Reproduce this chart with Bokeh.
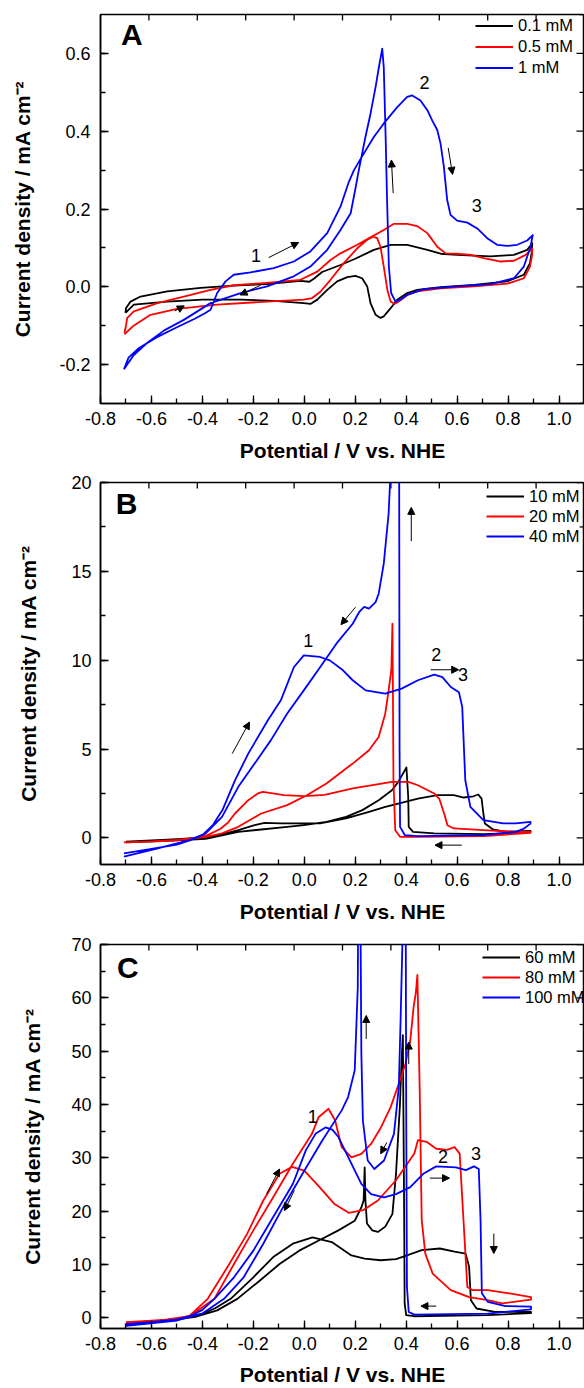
import numpy as np
from bokeh.plotting import figure
from bokeh.models import (SingleIntervalTicker, NumeralTickFormatter,
                          Arrow, NormalHead, Label, Range1d)
from bokeh.layouts import column
from bokeh.embed import file_html
from bokeh.resources import INLINE

FONT = "Liberation Sans"
X_LABEL = "Potential / V vs. NHE"
Y_LABEL = "Current density / mA cm\u207b\u00b2"
COLORS = ["#000000", "#ff0000", "#0000ff"]

# ---------------- Panel A data (E / V, j / mA cm-2) ----------------
A_LABELS = ["0.1 mM", "0.5 mM", "1 mM"]
A_01 = [(-0.702, -0.067), (-0.700, -0.055), (-0.682, -0.038), (-0.643, -0.025), (-0.538, -0.012),
        (-0.407, -0.003), (-0.277, 0.003), (-0.146, 0.007), (-0.015, 0.015), (0.020, 0.013),
        (0.040, 0.022), (0.070, 0.038), (0.142, 0.056), (0.200, 0.072), (0.273, 0.095),
        (0.339, 0.108), (0.404, 0.108), (0.483, 0.095), (0.535, 0.085), (0.600, 0.082),
        (0.731, 0.078), (0.823, 0.082), (0.875, 0.095), (0.895, 0.112),
        (0.893, 0.090), (0.886, 0.061), (0.862, 0.031), (0.797, 0.014), (0.666, 0.005),
        (0.535, -0.001), (0.443, -0.008), (0.404, -0.016), (0.365, -0.033), (0.339, -0.055),
        (0.312, -0.076), (0.299, -0.080), (0.280, -0.072), (0.260, -0.042), (0.247, 0.001),
        (0.227, 0.022), (0.201, 0.028), (0.169, 0.025), (0.129, 0.014), (0.090, -0.008),
        (0.051, -0.033), (0.024, -0.044), (-0.002, -0.042), (-0.120, -0.036), (-0.250, -0.033),
        (-0.400, -0.033), (-0.538, -0.038), (-0.669, -0.046), (-0.702, -0.067)]
A_05 = [(-0.706, -0.118), (-0.700, -0.100), (-0.695, -0.080), (-0.669, -0.063), (-0.577, -0.042),
        (-0.473, -0.025), (-0.368, -0.008), (-0.277, 0.004), (-0.172, 0.009), (-0.015, 0.018),
        (0.051, 0.039), (0.103, 0.069), (0.142, 0.086), (0.208, 0.108), (0.260, 0.127),
        (0.312, 0.146), (0.352, 0.162), (0.404, 0.162), (0.443, 0.156), (0.483, 0.138),
        (0.522, 0.103), (0.555, 0.086), (0.600, 0.085), (0.653, 0.082), (0.705, 0.074),
        (0.771, 0.065), (0.823, 0.067), (0.869, 0.082), (0.895, 0.099),
        (0.894, 0.080), (0.886, 0.052), (0.862, 0.022), (0.797, 0.008), (0.666, 0.001),
        (0.535, -0.004), (0.443, -0.012), (0.404, -0.021), (0.371, -0.038), (0.354, -0.044),
        (0.339, -0.038), (0.326, -0.008), (0.312, 0.052), (0.299, 0.103), (0.286, 0.125),
        (0.271, 0.129), (0.247, 0.121), (0.208, 0.099), (0.155, 0.061), (0.103, 0.018),
        (0.064, -0.012), (0.031, -0.029), (-0.002, -0.033), (-0.146, -0.038), (-0.342, -0.046),
        (-0.499, -0.057), (-0.604, -0.072), (-0.670, -0.100), (-0.706, -0.122)]
A_1 = [(-0.708, -0.212), (-0.690, -0.182), (-0.650, -0.158), (-0.580, -0.130), (-0.500, -0.104),
       (-0.430, -0.082), (-0.390, -0.068), (-0.368, -0.059), (-0.342, -0.016), (-0.309, 0.014),
       (-0.277, 0.031), (-0.211, 0.037), (-0.120, 0.048), (-0.041, 0.065), (0.024, 0.091),
       (0.090, 0.138), (0.142, 0.206), (0.175, 0.270), (0.195, 0.300), (0.234, 0.343),
       (0.273, 0.385), (0.312, 0.420), (0.365, 0.462), (0.404, 0.488), (0.424, 0.492),
       (0.456, 0.479), (0.483, 0.454), (0.502, 0.428), (0.522, 0.403), (0.535, 0.368),
       (0.548, 0.308), (0.561, 0.223), (0.574, 0.185), (0.600, 0.170), (0.640, 0.165),
       (0.679, 0.150), (0.718, 0.125), (0.757, 0.108), (0.797, 0.105), (0.836, 0.108),
       (0.875, 0.119), (0.897, 0.133),
       (0.888, 0.103), (0.862, 0.052), (0.823, 0.022), (0.731, 0.007), (0.600, 0.001),
       (0.469, -0.006), (0.404, -0.021), (0.378, -0.033), (0.358, -0.038), (0.341, -0.016),
       (0.332, 0.052), (0.325, 0.223), (0.319, 0.394), (0.312, 0.565), (0.306, 0.612),
       (0.293, 0.565), (0.280, 0.514), (0.260, 0.445), (0.240, 0.385), (0.214, 0.300),
       (0.200, 0.250), (0.182, 0.189), (0.142, 0.146), (0.090, 0.095), (0.024, 0.052),
       (-0.041, 0.027), (-0.146, 0.001), (-0.250, -0.016), (-0.368, -0.042), (-0.473, -0.085),
       (-0.550, -0.112), (-0.620, -0.146), (-0.670, -0.176), (-0.708, -0.212)]

# ---------------- Panel B data ----------------
B_LABELS = ["10 mM", "20 mM", "40 mM"]
B_10 = [(-0.700, -0.22), (-0.600, -0.15), (-0.500, -0.08), (-0.387, 0.02), (-0.323, 0.19),
        (-0.259, 0.43), (-0.195, 0.71), (-0.156, 0.84), (-0.092, 0.81), (-0.002, 0.81),
        (0.062, 0.81), (0.164, 1.09), (0.254, 1.46), (0.318, 1.74), (0.369, 1.93),
        (0.446, 2.21), (0.523, 2.40), (0.587, 2.40), (0.626, 2.27), (0.664, 2.34),
        (0.683, 2.44), (0.696, 2.21), (0.703, 1.37), (0.709, 0.81), (0.741, 0.47),
        (0.792, 0.34), (0.888, 0.39),
        (0.888, 0.34), (0.831, 0.28), (0.703, 0.21), (0.510, 0.25), (0.427, 0.34),
        (0.410, 0.62), (0.408, 2.30), (0.401, 3.96), (0.369, 3.15), (0.344, 2.68),
        (0.292, 2.12), (0.228, 1.56), (0.164, 1.18), (0.087, 0.90), (-0.002, 0.72),
        (-0.067, 0.62), (-0.169, 0.47), (-0.259, 0.34), (-0.387, -0.06), (-0.500, -0.14),
        (-0.600, -0.20), (-0.700, -0.25)]
B_20 = [(-0.708, -0.25), (-0.600, -0.20), (-0.500, -0.12), (-0.430, 0.00), (-0.380, 0.15),
        (-0.330, 0.50), (-0.300, 0.85), (-0.272, 1.37), (-0.220, 2.12), (-0.182, 2.50),
        (-0.163, 2.59), (-0.130, 2.52), (-0.080, 2.40), (0.000, 2.35), (0.080, 2.42),
        (0.190, 2.78), (0.280, 3.00), (0.344, 3.15), (0.408, 3.15), (0.446, 2.96),
        (0.510, 2.50), (0.530, 2.20), (0.549, 1.37), (0.562, 0.71), (0.587, 0.53),
        (0.703, 0.43), (0.830, 0.34), (0.888, 0.34),
        (0.888, 0.28), (0.703, 0.10), (0.446, 0.06), (0.376, 0.06), (0.357, 0.43),
        (0.350, 3.24), (0.348, 8.00), (0.346, 12.05), (0.342, 9.50), (0.331, 8.30),
        (0.318, 7.00), (0.292, 5.68), (0.254, 4.93), (0.190, 4.18), (0.087, 3.06),
        (0.010, 2.40), (-0.067, 1.84), (-0.169, 1.37), (-0.259, 0.62), (-0.323, 0.25),
        (-0.387, 0.06), (-0.500, -0.14), (-0.600, -0.21), (-0.708, -0.25)]
B_40 = [(-0.708, -0.88), (-0.600, -0.62), (-0.500, -0.38), (-0.450, -0.15), (-0.400, 0.15),
        (-0.360, 0.70), (-0.320, 1.60), (-0.272, 3.24), (-0.220, 4.74), (-0.143, 6.62),
        (-0.092, 7.74), (-0.041, 9.60), (-0.002, 10.27), (0.062, 10.18), (0.100, 9.99),
        (0.152, 9.43), (0.190, 8.87), (0.241, 8.30), (0.318, 8.12), (0.382, 8.40),
        (0.446, 8.87), (0.510, 9.19), (0.542, 9.05), (0.575, 8.49), (0.607, 8.20),
        (0.620, 7.37), (0.632, 3.24), (0.652, 1.74), (0.703, 1.00), (0.780, 0.81),
        (0.830, 0.81), (0.888, 0.90),
        (0.888, 0.80), (0.860, 0.50), (0.830, 0.34), (0.703, 0.15), (0.446, 0.10),
        (0.395, 0.15), (0.376, 0.62), (0.374, 5.00), (0.372, 26.0), (0.345, 26.0),
        (0.337, 20.10), (0.331, 18.24), (0.312, 15.43), (0.292, 13.74), (0.280, 13.27),
        (0.254, 12.90), (0.235, 13.00), (0.215, 12.70), (0.190, 12.05), (0.126, 10.93),
        (0.062, 9.60), (-0.002, 8.30), (-0.067, 7.00), (-0.131, 5.50), (-0.195, 4.18),
        (-0.259, 2.87), (-0.323, 1.18), (-0.387, 0.25), (-0.451, -0.13), (-0.579, -0.60),
        (-0.708, -1.05)]

# ---------------- Panel C data ----------------
C_LABELS = ["60 mM", "80 mM", "100 mM"]
C_60 = [(-0.700, -1.00), (-0.600, -0.70), (-0.500, -0.20), (-0.400, 0.80), (-0.350, 1.80),
        (-0.289, 3.56), (-0.200, 7.60), (-0.122, 11.40), (-0.045, 13.90), (0.032, 15.10),
        (0.108, 14.20), (0.185, 11.70), (0.237, 11.10), (0.300, 10.80), (0.360, 11.00),
        (0.403, 11.70), (0.461, 12.70), (0.532, 13.00), (0.590, 12.40), (0.633, 12.05),
        (0.647, 9.60), (0.654, 3.30), (0.676, 1.75), (0.748, 1.10), (0.890, 1.10),
        (0.890, 0.90), (0.720, 0.50), (0.430, 0.30), (0.400, 0.50), (0.394, 2.70),
        (0.392, 20.0), (0.387, 53.0), (0.382, 48.30), (0.375, 39.50), (0.360, 27.00),
        (0.346, 19.50), (0.318, 17.10), (0.289, 16.10), (0.267, 16.40), (0.246, 17.70),
        (0.240, 22.00), (0.237, 28.20), (0.233, 22.00), (0.224, 20.70), (0.198, 18.20),
        (0.134, 16.40), (0.057, 14.50), (-0.020, 12.60), (-0.097, 10.10), (-0.174, 7.00),
        (-0.263, 3.56), (-0.342, 1.40), (-0.428, 0.20), (-0.571, -0.75), (-0.700, -1.40)]
C_80 = [(-0.700, -0.80), (-0.600, -0.55), (-0.500, -0.20), (-0.450, 0.40), (-0.379, 3.56),
        (-0.302, 9.50), (-0.225, 15.70), (-0.161, 22.00), (-0.097, 27.00), (-0.048, 28.30),
        (0.000, 27.60), (0.060, 24.50), (0.117, 21.40), (0.174, 19.70), (0.232, 20.20),
        (0.289, 22.00), (0.360, 25.80), (0.432, 30.80), (0.446, 33.30), (0.480, 33.00),
        (0.518, 31.70), (0.560, 31.50), (0.590, 32.00), (0.610, 30.80), (0.625, 18.30),
        (0.640, 5.80), (0.660, 5.20), (0.720, 5.20), (0.790, 4.70), (0.890, 3.90),
        (0.890, 3.40), (0.776, 2.70), (0.720, 3.30), (0.647, 3.90), (0.575, 5.20),
        (0.504, 8.30), (0.475, 12.05), (0.461, 18.30), (0.453, 43.00), (0.444, 64.30),
        (0.438, 61.00), (0.429, 58.20), (0.416, 52.00), (0.397, 47.60), (0.371, 43.90),
        (0.339, 39.50), (0.301, 35.70), (0.262, 32.60), (0.224, 30.75), (0.185, 30.10),
        (0.147, 32.00), (0.121, 37.00), (0.095, 39.20), (0.056, 37.60), (0.030, 34.50),
        (-0.045, 28.90), (-0.122, 22.60), (-0.200, 16.40), (-0.276, 10.10), (-0.353, 3.56),
        (-0.450, 0.30), (-0.550, -0.40), (-0.700, -1.00)]
C_100 = [(-0.700, -1.20), (-0.600, -0.80), (-0.500, -0.30), (-0.450, 0.30), (-0.400, 1.50),
         (-0.353, 3.56), (-0.276, 7.60), (-0.200, 12.60), (-0.122, 18.90), (-0.045, 25.10),
         (0.006, 31.40), (0.044, 34.50), (0.083, 35.70), (0.110, 35.30), (0.134, 33.90),
         (0.185, 28.90), (0.224, 25.10), (0.262, 23.20), (0.313, 22.60), (0.360, 23.20),
         (0.416, 24.50), (0.467, 27.00), (0.518, 28.40), (0.595, 28.20), (0.634, 27.70),
         (0.666, 28.40), (0.685, 27.90), (0.692, 18.20), (0.697, 4.60), (0.720, 3.00),
         (0.790, 2.20), (0.890, 2.10),
         (0.890, 1.60), (0.720, 0.80), (0.432, 0.60), (0.410, 1.10), (0.403, 5.80),
         (0.400, 40.0), (0.398, 80.0), (0.390, 80.0), (0.378, 55.70), (0.371, 43.20),
         (0.352, 34.50), (0.313, 29.50), (0.275, 27.90), (0.249, 29.50), (0.230, 37.00),
         (0.224, 49.50), (0.220, 80.0), (0.212, 80.0), (0.210, 62.00), (0.198, 46.40),
         (0.172, 41.40), (0.147, 38.90), (0.070, 33.20), (-0.007, 27.00), (-0.084, 20.70),
         (-0.161, 13.90), (-0.238, 7.60), (-0.315, 3.56), (-0.400, 0.80), (-0.500, -0.50),
         (-0.700, -1.50)]

X_RANGE = (-0.8, 1.1)
X_STEP = 0.2
# the mirrored top axis of the original runs from -0.8 to 1.2 over the same frame
TOP_RANGE = (-0.8, 1.2)
TOP_TICKS = [-0.6, -0.4, -0.2, 0.0, 0.2, 0.4, 0.6, 0.8, 1.0]


def style_axis(ax, ticker, fmt, label_standoff, title_standoff):
    ax.ticker = ticker
    ax.formatter = fmt
    ax.major_tick_in = 8
    ax.major_tick_out = 0
    ax.minor_tick_in = 5
    ax.minor_tick_out = 0
    ax.axis_line_color = "black"
    ax.axis_line_width = 1.5
    ax.major_tick_line_color = "black"
    ax.minor_tick_line_color = "black"
    ax.major_tick_line_width = 1.3
    ax.minor_tick_line_width = 1.3
    ax.major_label_text_font = FONT
    ax.major_label_text_color = "black"
    ax.major_label_text_font_size = "18px"
    ax.major_label_standoff = label_standoff
    ax.axis_label_text_font = FONT
    ax.axis_label_text_font_style = "bold"
    ax.axis_label_text_font_size = "21px"
    ax.axis_label_text_color = "black"
    ax.axis_label_standoff = title_standoff


def tick_values(lo, hi, step):
    k0 = int(np.ceil(lo / step - 1e-9))
    k1 = int(np.floor(hi / step + 1e-9))
    return [k * step for k in range(k0, k1 + 1)]


def mirror_ticks(p, yr, ystep, fw, fh):
    # inward ticks on the top and right edges of the frame
    x0, x1 = X_RANGE
    y0, y1 = yr
    dx = (x1 - x0) / fw
    dy = (y1 - y0) / fh
    xs0, ys0, xs1, ys1 = [], [], [], []
    t0, t1 = TOP_RANGE
    for v in TOP_TICKS:
        xv = x0 + (v - t0) / (t1 - t0) * (x1 - x0)
        xs0.append(xv); xs1.append(xv); ys0.append(y1); ys1.append(y1 - 6 * dy)
    for v in tick_values(y0, y1, ystep / 2):
        major = abs(round(v / ystep) * ystep - v) < 1e-6
        L = 8 if major else 5
        ys0.append(v); ys1.append(v); xs0.append(x1); xs1.append(x1 - L * dx)
    p.segment(x0=xs0, y0=ys0, x1=xs1, y1=ys1, line_color="black", line_width=1.3)


def make_panel(cfg):
    p = figure(width=584, height=cfg["height"],
               x_range=Range1d(*X_RANGE), y_range=Range1d(*cfg["yr"]),
               output_backend="svg", toolbar_location=None,
               min_border_left=cfg["bl"], min_border_right=0,
               min_border_top=cfg["bt"], min_border_bottom=cfg["bb"],
               x_axis_label=X_LABEL, y_axis_label=Y_LABEL)
    p.background_fill_color = "white"
    p.border_fill_color = "white"
    p.outline_line_color = "black"
    p.outline_line_width = 1.5
    p.xgrid.visible = False
    p.ygrid.visible = False

    xaxis = p.below[0]
    yaxis = p.left[0]
    style_axis(xaxis, SingleIntervalTicker(interval=X_STEP, num_minor_ticks=2),
               NumeralTickFormatter(format="0.0"), cfg["xsd"], cfg["xlsd"])
    style_axis(yaxis, SingleIntervalTicker(interval=cfg["yint"], num_minor_ticks=2),
               NumeralTickFormatter(format=cfg["yfmt"]), cfg["ysd"], cfg["ylsd"])

    fw = 584 - cfg["bl"]
    fh = cfg["height"] - cfg["bt"] - cfg["bb"]
    mirror_ticks(p, cfg["yr"], cfg["yint"], fw, fh)

    for (lab, col, pts) in zip(cfg["labels"], COLORS, cfg["series"]):
        xs = [a for a, b in pts]
        ys = [b for a, b in pts]
        p.line(xs, ys, line_color=col, line_width=1.8, line_join="round",
               legend_label=lab)

    lg = p.legend[0]
    lg.location = cfg["legloc"]
    lg.border_line_color = None
    lg.background_fill_alpha = 0
    lg.label_text_font = FONT
    lg.label_text_font_size = "16.5px"
    lg.label_text_color = "black"
    lg.glyph_width = 38
    lg.glyph_height = cfg["rowh"]
    lg.label_height = cfg["rowh"]
    lg.label_standoff = 5
    lg.spacing = 0
    lg.padding = 0
    lg.margin = 0

    lx, ly, ltxt = cfg["letter"]
    p.add_layout(Label(x=lx, y=ly, text=ltxt, text_font=FONT, text_font_size="30px",
                       text_font_style="bold", text_color="black",
                       text_align="left", text_baseline="middle"))
    for (nx, ny, nt) in cfg["numbers"]:
        p.add_layout(Label(x=nx, y=ny, text=nt, text_font=FONT, text_font_size="18px",
                           text_color="black", text_align="left",
                           text_baseline="middle"))
    for (xa, ya, xb, yb) in cfg["arrows"]:
        p.add_layout(Arrow(end=NormalHead(size=7, fill_color="black", line_color="black",
                                          line_width=1),
                           x_start=xa, y_start=ya, x_end=xb, y_end=yb,
                           line_color="black", line_width=1))
    return p


cfgA = dict(height=468, yr=(-0.3, 0.7), yint=0.2, yfmt="0.0", bl=100, bt=14, bb=65,
            xsd=8, xlsd=11, ysd=10, ylsd=22, labels=A_LABELS, series=[A_01, A_05, A_1],
            legloc=(375, 325), rowh=21,
            letter=(-0.72, 0.649, "A"),
            numbers=[(-0.209, 0.080, "1"), (0.452, 0.526, "2"), (0.657, 0.209, "3")],
            arrows=[(-0.14, 0.075, -0.022, 0.114), (0.349, 0.241, 0.342, 0.326),
                    (0.565, 0.357, 0.582, 0.289), (-0.172, 0.004, -0.252, -0.021),
                    (-0.508, -0.062, -0.471, -0.049)])
cfgB = dict(height=460, yr=(-1.5, 20), yint=5, yfmt="0", bl=89, bt=14, bb=64,
            xsd=8, xlsd=11, ysd=9, ylsd=28, labels=B_LABELS, series=[B_10, B_20, B_40],
            legloc=(386, 318), rowh=20,
            letter=(-0.74, 18.82, "B"),
            numbers=[(-0.004, 11.11, "1"), (0.498, 10.31, "2"), (0.603, 9.17, "3")],
            arrows=[(-0.283, 4.74, -0.215, 6.52), (0.201, 12.98, 0.144, 12.0),
                    (0.42, 16.7, 0.42, 18.6), (0.496, 9.46, 0.606, 9.46),
                    (0.618, -0.41, 0.513, -0.41)])
cfgC = dict(height=460, yr=(-2, 70), yint=10, yfmt="0", bl=90, bt=16, bb=60,
            xsd=8, xlsd=10, ysd=9, ylsd=24, labels=C_LABELS, series=[C_60, C_80, C_100],
            legloc=(382, 321), rowh=20,
            letter=(-0.735, 65.6, "C"),
            numbers=[(0.014, 37.7, "1"), (0.525, 30.2, "2"), (0.654, 30.9, "3")],
            arrows=[(-0.148, 23.25, -0.097, 27.9), (-0.039, 23.9, -0.078, 20.1),
                    (0.243, 52.3, 0.243, 56.7), (0.41, 47.6, 0.41, 51.7),
                    (0.324, 32.9, 0.30, 30.75), (0.493, 26.2, 0.57, 26.2),
                    (0.744, 15.8, 0.744, 12.05), (0.518, 2.2, 0.458, 2.2)])

pA = make_panel(cfgA)
pB = make_panel(cfgB)
pC = make_panel(cfgC)

layout = column(pA, pB, pC, spacing=0)
open("out.html", "w").write(file_html(layout, INLINE, title="CV"))
